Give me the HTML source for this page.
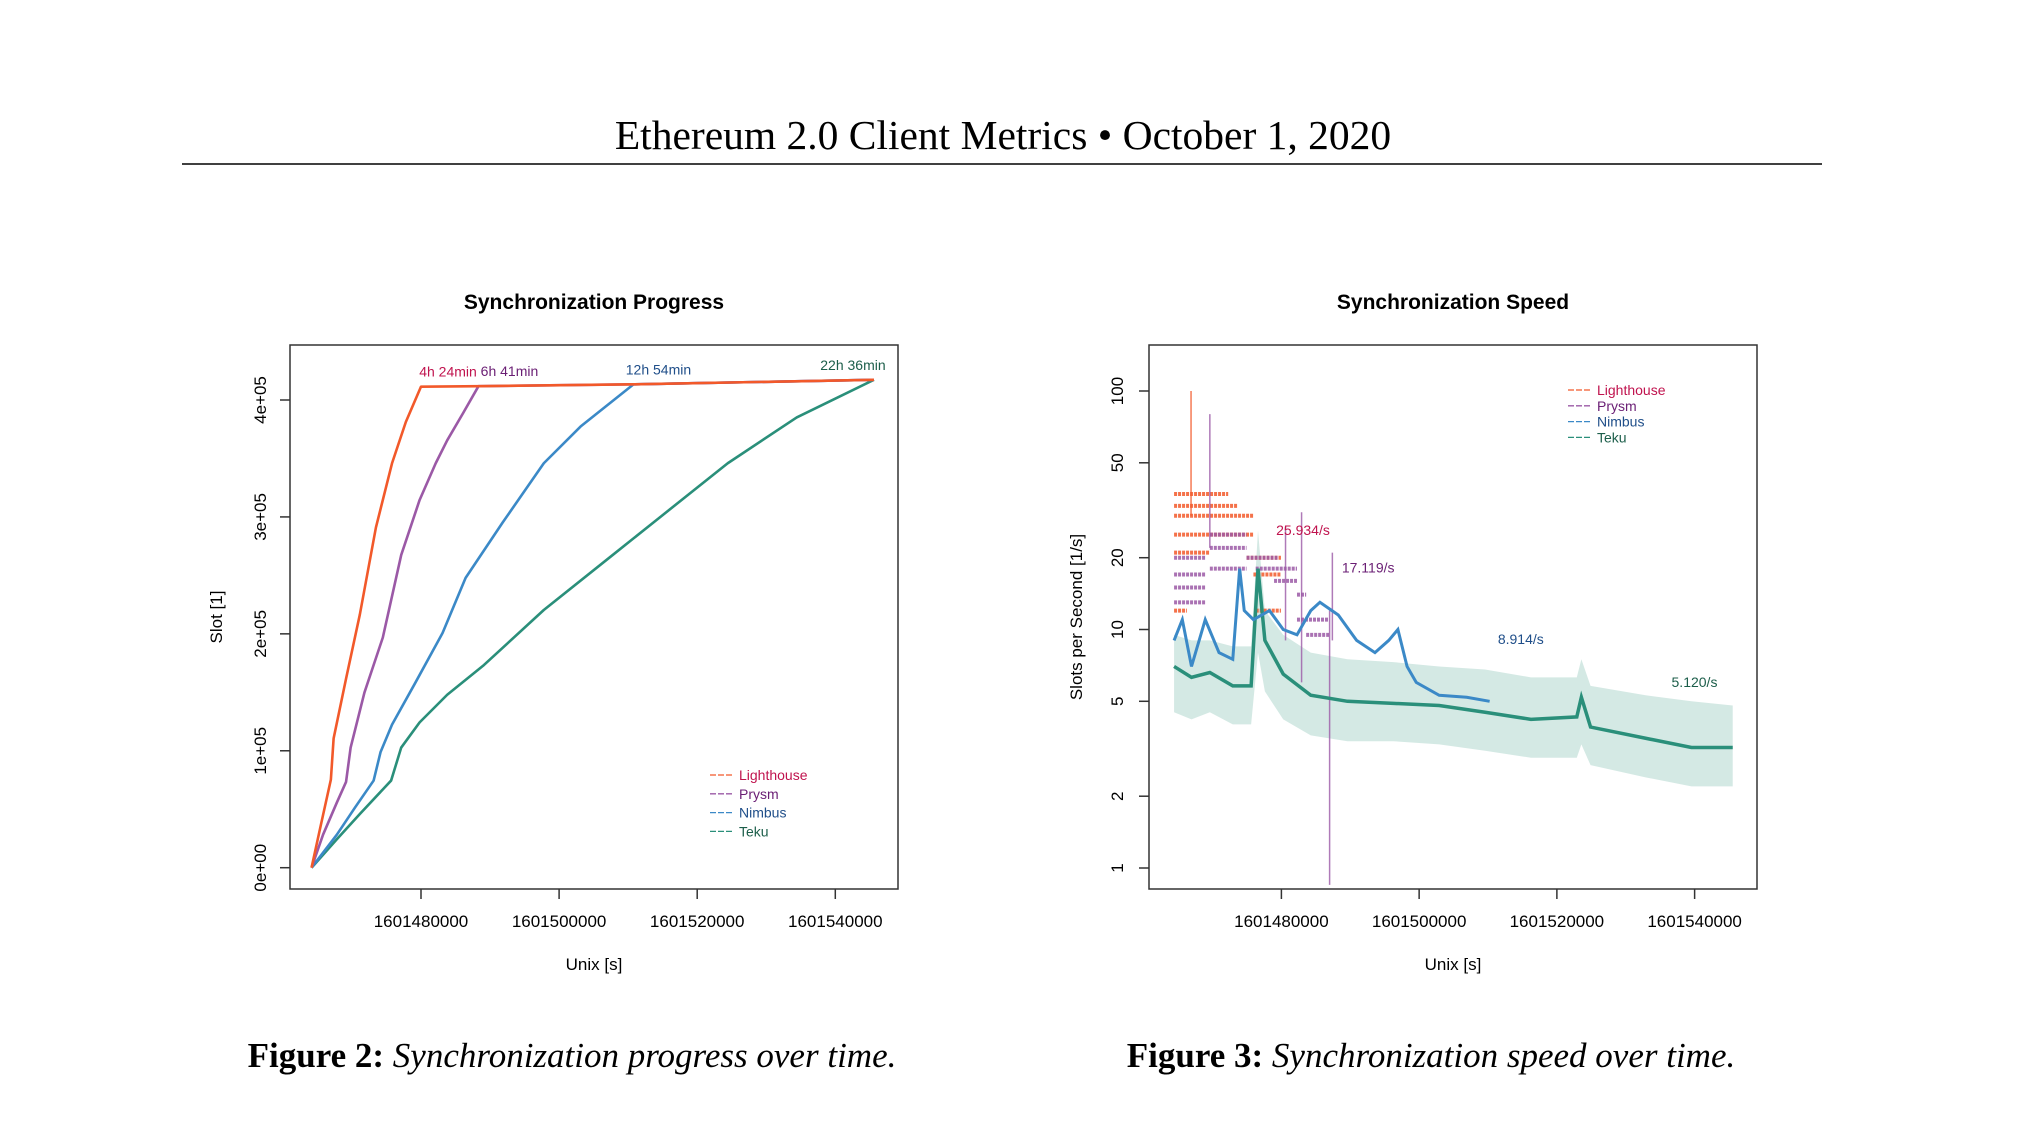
<!DOCTYPE html>
<html><head><meta charset="utf-8"><style>
html,body{margin:0;padding:0;background:#fff;}
svg{display:block;}
text{font-family:"Liberation Sans",sans-serif;}
</style></head><body>
<svg id="root" width="2037" height="1145" viewBox="0 0 2037 1145" xmlns="http://www.w3.org/2000/svg">
<text x="1003" y="149" text-anchor="middle" style="font-family:'Liberation Serif',serif;font-size:41.5px" fill="#000">Ethereum 2.0 Client Metrics • October 1, 2020</text>
<line x1="182" y1="164" x2="1822" y2="164" stroke="#000" stroke-width="1.6"/>
<text x="572" y="1067" text-anchor="middle" style="font-family:'Liberation Serif',serif;font-size:35px"><tspan font-weight="bold">Figure 2:</tspan> <tspan font-style="italic">Synchronization progress over time.</tspan></text>
<text x="1431" y="1067" text-anchor="middle" style="font-family:'Liberation Serif',serif;font-size:35px"><tspan font-weight="bold">Figure 3:</tspan> <tspan font-style="italic">Synchronization speed over time.</tspan></text>
<g id="left"></g>
<g id="right"></g>
</svg>
<script>
// ---------- Progress chart data ----------
const lhT=[1601464149,1601465481,1601466946,1601467346,1601469144,1601471142,1601473473,1601475804,1601477802,1601480000,1601488325,1601510769,1601545601];
const lhS=[0,36100,75300,110600,161600,216500,291000,345900,381200,411400,411800,413400,417300];
const prT=[1601464149,1601465814,1601467812,1601469144,1601469810,1601471808,1601474472,1601477136,1601479800,1601482131,1601483796,1601486127,1601488325,1601510769,1601545601];
const prS=[0,28240,55700,73340,102760,149800,196900,267500,314500,345900,365500,389100,411800,413400,417300];
const nbT=[1601464149,1601467812,1601470476,1601473140,1601474139,1601475804,1601479134,1601483130,1601486460,1601491788,1601497782,1601503110,1601510769,1601545601];
const nbS=[0,28240,51770,74520,98830,122400,157700,200800,247900,294900,345900,377300,413400,417300];
const tkT=[1601464149,1601467812,1601471142,1601475671,1601477136,1601479800,1601483796,1601489124,1601497782,1601507772,1601514432,1601524422,1601534412,1601545601];
const tkS=[0,24320,45890,74520,102760,124300,147900,173400,220400,267500,298900,345900,385100,417300];
const xTicks=[1601480000,1601500000,1601520000,1601540000];
const yTicksL=[0,100000,200000,300000,400000];
const yTickLabelsL=["0e+00","1e+05","2e+05","3e+05","4e+05"];
const doneLabels=["4h 24min","6h 41min","12h 54min","22h 36min"];
const doneT=[1601480000,1601488325,1601510769,1601545601];
const doneS=[411400,411800,413400,417300];
const clientNames=["Lighthouse","Prysm","Nimbus","Teku"];
// ---------- Speed chart data ----------
const tkSpT=[1601464416,1601466946,1601469610,1601472940,1601475604,1601476603,1601477602,1601480266,1601484262,1601489590,1601496250,1601502910,1601509570,1601516230,1601522890,1601523556,1601524888,1601532880,1601539540,1601545534];
const tkSpV=[7,6.3,6.6,5.8,5.8,18,9,6.5,5.3,5.0,4.9,4.8,4.5,4.2,4.3,5.2,3.9,3.5,3.2,3.2];
const tkLo=[4.5,4.2,4.5,4.0,4.0,8,5.5,4.2,3.6,3.4,3.4,3.3,3.1,2.9,2.9,3.3,2.7,2.4,2.2,2.2];
const tkHi=[9.5,9,9,8.5,8.5,26,12,9.5,8,7.5,7.3,7,6.8,6.3,6.3,7.5,5.8,5.3,5,4.8];
const nbSpT=[1601464416,1601465614,1601466946,1601468944,1601470942,1601472940,1601473939,1601474605,1601475937,1601478268,1601480266,1601482264,1601484262,1601485594,1601488258,1601490922,1601493586,1601495584,1601496916,1601498248,1601499580,1601502910,1601506906,1601510236];
const nbSpV=[9,11,7,11,8,7.5,18,12,11,12,10,9.5,12,13,11.5,9,8,9,10,7,6,5.3,5.2,5];
// step levels [start, end, value]
const lhSteps=[[1601464416,1601475937,30],[1601464416,1601473606,33],[1601464416,1601475937,25],[1601464416,1601472274,37],[1601464416,1601469610,21],[1601464416,1601466280,12],[1601475937,1601479933,17],[1601474938,1601479933,20],[1601476270,1601479933,12]];
const prSteps=[[1601464416,1601468944,17],[1601464416,1601468944,15],[1601464416,1601468944,13],[1601464416,1601468944,20],[1601469610,1601474938,22],[1601469610,1601474938,25],[1601469610,1601474938,18],[1601474938,1601479600,20],[1601476270,1601482264,18],[1601478934,1601482264,16],[1601482264,1601483596,14],[1601482264,1601486926,11],[1601483596,1601486926,9.5]];
const spikesT=[1601466880,1601469610,1601480600,1601482930,1601487400,1601487000];
const spikesTop=[100,80,27,31,21,12];
const spikesBot=[30,22,9,6,9,0.85];
const spikeSeries=[0,1,1,1,1,1];
const yTicksR=[1,2,5,10,20,50,100];
const rateLabels=["25.934/s","17.119/s","8.914/s","5.120/s"];
const rateLabelT=[1601483136,1601492602,1601514763,1601539981];
const rateLabelV=[24.9,17.3,8.7,5.74];

const NS="http://www.w3.org/2000/svg";
function mk(parent,tag,attrs){const e=document.createElementNS(NS,tag);for(const k in attrs)e.setAttribute(k,attrs[k]);parent.appendChild(e);return e;}
const cols=["#f2592a","#9b59a6","#3b89c7","#2a8f7a"];
const txtCols=["#c0134e","#6a1e74","#1f4e89","#1c5e4a"];

function frame(G,x0,x1,title,cx,ylab,ylx){
  const r=mk(G,'rect',{x:x0,y:345,width:x1-x0,height:544,fill:'none',stroke:'#333','stroke-width':1.5});
  
  
  const t=mk(G,'text',{x:cx,y:309,'text-anchor':'middle','font-size':21,'font-weight':'bold'});t.textContent=title;
  
  
  const xl=mk(G,'text',{x:cx,y:970,'text-anchor':'middle','font-size':17});xl.textContent='Unix [s]';
  
  
  const yl=mk(G,'text',{x:ylx,y:617,'text-anchor':'middle','font-size':17,transform:`rotate(-90 ${ylx} 617)`});yl.textContent=ylab;
  
  
}
function xAxis(G,fx){
  xTicks.forEach(t=>{const x=fx(t);
    const l=mk(G,'line',{x1:x,y1:889,x2:x,y2:899,stroke:'#333','stroke-width':1.5});
    
    
    const tx=mk(G,'text',{x:x,y:927,'text-anchor':'middle','font-size':17});tx.textContent=String(t);
    
    });
}
function legend(G,x,y,dy){
  clientNames.forEach((n,i)=>{
    const l=mk(G,'line',{x1:x,y1:y+i*dy-5,x2:x+24,y2:y+i*dy-5,stroke:cols[i],'stroke-width':1.3,'stroke-dasharray':'6,2'});
    
    
    const t=mk(G,'text',{x:x+29,y:y+i*dy,'font-size':14,fill:txtCols[i]});t.textContent=n;
    
    });
}

// ----- Left -----
const L=document.getElementById('left');
const lx=t=>421+(t-1601480000)*0.006905;
const ly=s=>867.7-s*(467.7/400000);
frame(L,290,898,'Synchronization Progress',594,'Slot [1]',222);
xAxis(L,lx);
yTicksL.forEach((s,i)=>{const y=ly(s);
  const l=mk(L,'line',{x1:280,y1:y,x2:290,y2:y,stroke:'#333','stroke-width':1.5});
  
  
  const tx=mk(L,'text',{x:266,y:y,'text-anchor':'middle','font-size':17,transform:`rotate(-90 266 ${y})`});tx.textContent=yTickLabelsL[i];
  
  });
const series=[[tkT,tkS],[nbT,nbS],[prT,prS],[lhT,lhS]];
const sIdx=[3,2,1,0];
series.forEach((s,k)=>{const i=sIdx[k];
  const p=mk(L,'polyline',{points:s[0].map((t,j)=>lx(t)+','+ly(s[1][j])).join(' '),fill:'none',stroke:cols[i],'stroke-width':2.6,'stroke-linejoin':'round'});
  
  });
const labOff=[27,31,25,-21];
doneLabels.forEach((lab,i)=>{
  const tx=mk(L,'text',{x:lx(doneT[i])+labOff[i],y:ly(doneS[i])-10,'text-anchor':'middle','font-size':14,fill:txtCols[i]});
  tx.textContent=lab;
  
  });
legend(L,710,780,18.8);

// ----- Right -----
const R=document.getElementById('right');
const rx=t=>1281.4+(t-1601480000)*0.006887;
const ry=v=>868-Math.log10(v)*238.5;
frame(R,1149,1757,'Synchronization Speed',1453,'Slots per Second [1/s]',1082);
xAxis(R,rx);
yTicksR.forEach(v=>{const y=ry(v);
  const l=mk(R,'line',{x1:1139,y1:y,x2:1149,y2:y,stroke:'#333','stroke-width':1.5});
  
  
  const tx=mk(R,'text',{x:1123,y:y,'text-anchor':'middle','font-size':17,transform:`rotate(-90 1123 ${y})`});tx.textContent=String(v);
  
  });
const clip=mk(R,'clipPath',{id:'rc'});mk(clip,'rect',{x:1149,y:345,width:608,height:544});
const P=mk(R,'g',{'clip-path':'url(#rc)'});


const band=mk(P,'polygon',{points:tkSpT.map((t,j)=>rx(t)+','+ry(tkHi[j])).concat(tkSpT.slice().reverse().map((t,j)=>rx(t)+','+ry(tkLo[tkLo.length-1-j]))).join(' '),fill:'#2a8f7a','fill-opacity':0.2});


function steps(arr,c,name){arr.forEach(s=>{
  const l=mk(P,'line',{x1:rx(s[0]),x2:rx(s[1]),y1:ry(s[2]),y2:ry(s[2]),stroke:c,'stroke-width':4,'stroke-dasharray':'3,1','stroke-opacity':0.85});
  
  });}
steps(lhSteps,cols[0],'lighthouse-speed-level');
steps(prSteps,cols[1],'prysm-speed-level');
spikesT.forEach((t,i)=>{
  const l=mk(P,'line',{x1:rx(t),x2:rx(t),y1:ry(spikesTop[i]),y2:ry(spikesBot[i]),stroke:cols[spikeSeries[i]],'stroke-width':1.5,'stroke-opacity':0.8});
  
  });
const tk=mk(P,'polyline',{points:tkSpT.map((t,j)=>rx(t)+','+ry(tkSpV[j])).join(' '),fill:'none',stroke:cols[3],'stroke-width':3.5});


const nb=mk(P,'polyline',{points:nbSpT.map((t,j)=>rx(t)+','+ry(nbSpV[j])).join(' '),fill:'none',stroke:cols[2],'stroke-width':3});


rateLabels.forEach((lab,i)=>{
  const t=mk(R,'text',{x:rx(rateLabelT[i]),y:ry(rateLabelV[i]),'text-anchor':'middle','font-size':14,fill:txtCols[i]});t.textContent=lab;
  
  });
legend(R,1568,395,15.8);
</script>
</body></html>
